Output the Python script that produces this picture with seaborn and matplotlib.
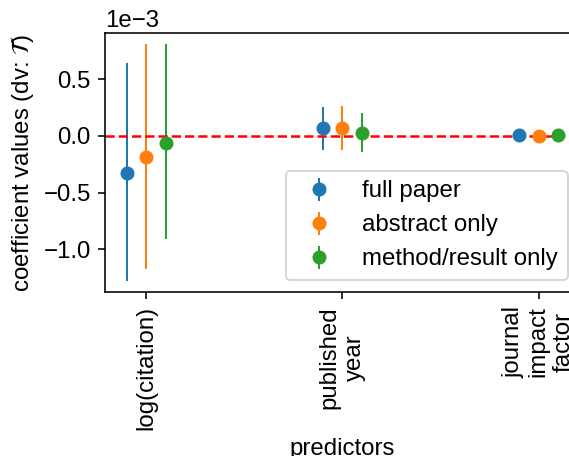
import numpy as np
import pandas as pd
import seaborn as sns
import matplotlib.pyplot as plt
from matplotlib.lines import Line2D

predictors = ["log(citation)", "published\nyear", "journal\nimpact\nfactor"]
models = ["full paper", "abstract only", "method/result only"]

# coefficient, lower and upper end of the interval
coef_full = [-0.330e-3, 0.065e-3, 0.009e-3]
lo_full = [-1.273e-3, -0.119e-3, -0.011e-3]
hi_full = [0.635e-3, 0.244e-3, 0.029e-3]

coef_abs = [-0.185e-3, 0.065e-3, -0.006e-3]
lo_abs = [-1.167e-3, -0.119e-3, -0.026e-3]
hi_abs = [0.798e-3, 0.256e-3, 0.014e-3]

coef_meth = [-0.060e-3, 0.024e-3, 0.009e-3]
lo_meth = [-0.899e-3, -0.131e-3, -0.011e-3]
hi_meth = [0.798e-3, 0.188e-3, 0.029e-3]

plt.rcParams["font.family"] = ["Liberation Sans", "DejaVu Sans"]
plt.rcParams["font.size"] = 12

rows = []
for m, coef, lo, hi in zip(models,
                           [coef_full, coef_abs, coef_meth],
                           [lo_full, lo_abs, lo_meth],
                           [hi_full, hi_abs, hi_meth]):
    for p, c, l, h in zip(predictors, coef, lo, hi):
        for v in (l, c, h):
            rows.append({"predictor": p, "model": m, "val": v})
df = pd.DataFrame(rows)

colors = sns.color_palette("tab10", 3)

fig = plt.figure(figsize=(569 / 144, 456 / 144))
ax = fig.add_axes([0.1845, 0.3596, 0.8345, 0.567])

sns.pointplot(data=df, x="predictor", y="val", hue="model",
              order=predictors, hue_order=models,
              estimator="median", errorbar=("pi", 100),
              dodge=0.2, palette=colors, markers="o", linestyle="none",
              markersize=6, markeredgewidth=1, zorder=2.2,
              err_kws={"linewidth": 1, "zorder": 1.9},
              legend=False, ax=ax)

ax.axhline(0, color="red", linestyle="--", linewidth=1.25, zorder=2)
ax.set_xlim(-0.21, 2.21)
ax.ticklabel_format(axis="y", style="sci", scilimits=(0, 0))
ax.tick_params(axis="x", rotation=90)
ax.set_xlabel("predictors")
ax.set_ylabel(r"coefficient values (dv: $\mathcal{T}$)")

handles = [(Line2D([], [], color=c, marker="|", markersize=11.5,
                   markeredgewidth=1, linestyle="none"),
            Line2D([], [], color=c, marker="o", markersize=6,
                   linestyle="none"))
           for c in colors]
ax.legend(handles, models, loc="lower right")

fig.savefig("out.png", dpi=144)
